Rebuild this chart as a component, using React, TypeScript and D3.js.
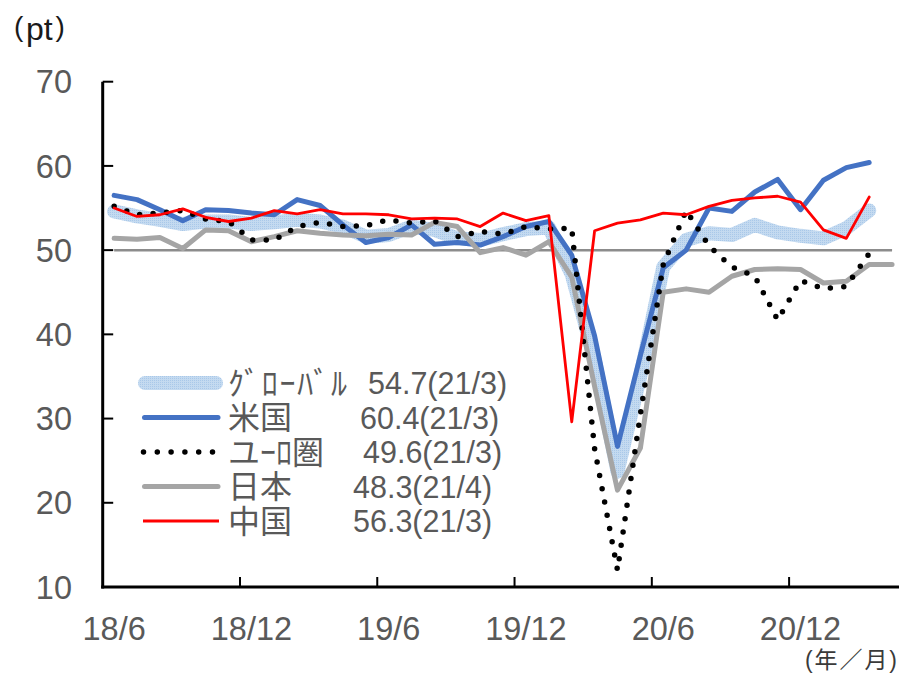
import React from 'react';
import * as d3 from 'd3';

// Monthly categories, 2018/6 .. 2021/4
const months = [
  '18/6', '18/7', '18/8', '18/9', '18/10', '18/11', '18/12',
  '19/1', '19/2', '19/3', '19/4', '19/5', '19/6', '19/7', '19/8', '19/9', '19/10', '19/11', '19/12',
  '20/1', '20/2', '20/3', '20/4', '20/5', '20/6', '20/7', '20/8', '20/9', '20/10', '20/11', '20/12',
  '21/1', '21/2', '21/3', '21/4',
];
const tickLabels = ['18/6', '18/12', '19/6', '19/12', '20/6', '20/12'];
const yTicks = [10, 20, 30, 40, 50, 60, 70];
const REF_LEVEL = 50;

// Services PMI (pt)
const globalPmi = [
  54.6, 54.0, 53.6, 53.1, 53.4, 53.4, 53.1, 53.3, 53.6, 53.4, 52.8, 51.6, 51.8, 52.8, 52.4, 51.4, 51.2, 51.9, 52.5,
  52.7, 47.1, 37.0, 23.7, 35.1, 48.0, 51.2, 52.0, 51.8, 53.0, 52.1, 51.7, 51.4, 52.6, 54.7,
];
const usPmi = [
  56.5, 56.0, 54.8, 53.5, 54.8, 54.7, 54.4, 54.2, 56.0, 55.3, 53.0, 50.9, 51.5, 53.0, 50.7, 50.9, 50.6, 51.6, 52.8,
  53.4, 49.4, 39.8, 26.7, 37.5, 47.9, 50.0, 55.0, 54.6, 56.9, 58.4, 54.8, 58.3, 59.8, 60.4,
];
const euroPmi = [
  55.2, 54.2, 54.4, 54.7, 53.7, 53.4, 51.2, 51.2, 52.8, 53.3, 52.8, 52.9, 53.6, 53.2, 53.5, 51.6, 52.2, 51.9, 52.8,
  52.5, 52.6, 26.4, 12.0, 30.5, 48.3, 54.7, 50.5, 48.0, 46.9, 41.7, 46.4, 45.4, 45.7, 49.6,
];
const japanPmi = [
  51.4, 51.3, 51.5, 50.2, 52.4, 52.3, 51.0, 51.6, 52.3, 52.0, 51.8, 51.7, 51.9, 51.8, 53.3, 52.8, 49.7, 50.3, 49.4,
  51.0, 46.8, 33.8, 21.5, 26.5, 45.0, 45.4, 45.0, 46.9, 47.7, 47.8, 47.7, 46.1, 46.3, 48.3, 48.3,
];
const chinaPmi = [
  55.0, 54.0, 54.2, 54.9, 53.9, 53.4, 53.8, 54.7, 54.3, 54.8, 54.3, 54.3, 54.2, 53.7, 53.8, 53.7, 52.8, 54.4, 53.5,
  54.1, 29.6, 52.3, 53.2, 53.6, 54.4, 54.2, 55.2, 55.9, 56.2, 56.4, 55.7, 52.4, 51.4, 56.3,
];

const seriesNames = ['ｸﾞﾛｰﾊﾞﾙ', '米国', 'ユｰﾛ圏', '日本', '中国'];

const W = 899;
const H = 674;
const TEXT = '#595959';
const FONT = "'Liberation Sans', Arial, 'Noto Sans CJK JP', sans-serif";

type Series = {
  name: string;
  values: number[];
  color: string;
  width: number;
  dash?: string;
};

const series: Series[] = [
  { name: seriesNames[0], values: globalPmi, color: 'url(#globalTexture)', width: 14 },
  { name: seriesNames[1], values: usPmi, color: '#4472C4', width: 5 },
  { name: seriesNames[2], values: euroPmi, color: '#000000', width: 5.5, dash: '0 13.5' },
  { name: seriesNames[3], values: japanPmi, color: '#A5A5A5', width: 5 },
  { name: seriesNames[4], values: chinaPmi, color: '#FF0000', width: 2.8 },
];

// draw order: band first, then the other lines
const drawOrder = [0, 1, 3, 2, 4];

// legend value columns (start x of the "value(month)" text per row)
const legendValueX = [368, 360, 363, 353, 353];

export default function App() {
  const x = d3.scaleBand<string>().domain(months).range([102.7, 903.5]);
  const cx = (i: number) => (x(months[i]) as number) + x.bandwidth() / 2;
  const y = d3.scaleLinear().domain([10, 70]).range([587, 81.7]);
  const line = d3
    .line<number>()
    .x((_, i) => cx(i))
    .y((d) => y(d));

  const fmt = d3.format('.1f');
  const xAxisY = y(10);
  const yAxisX = x.range()[0];

  const legendTop = 383;
  const legendStep = 34.5;

  return (
    <svg
      width={W}
      height={H}
      viewBox={`0 0 ${W} ${H}`}
      style={{ position: 'absolute', left: 0, top: 0, background: '#ffffff' }}
    >
      <defs>
        <pattern id="globalTexture" patternUnits="userSpaceOnUse" width={2} height={2}>
          <rect width={2} height={2} fill="#C4DAF0" />
          <rect width={1} height={1} fill="#A9C8E9" />
        </pattern>
      </defs>
      <rect width={W} height={H} fill="#ffffff" />

      {/* unit labels */}
      <text fill="#1a1a1a" fontFamily={FONT}>
        <tspan x={14} y={35.5} fontSize={28}>(</tspan>
        <tspan x={26} y={40} fontSize={32}>pt</tspan>
        <tspan x={55.5} y={35.5} fontSize={28}>)</tspan>
      </text>
      <text
        x={805}
        y={668}
        fill="#3a3a3a"
        fontSize={23}
        fontFamily={FONT}
        textLength={92}
        lengthAdjust="spacing"
      >
        (年／月)
      </text>

      {/* reference line at 50 */}
      <line
        x1={cx(0)}
        x2={cx(months.length - 1)}
        y1={y(REF_LEVEL)}
        y2={y(REF_LEVEL)}
        stroke="#8C8C8C"
        strokeWidth={2.5}
      />

      {/* series */}
      {drawOrder.map((k) => {
        const s = series[k];
        return (
          <path
            key={s.name}
            d={line(s.values) || ''}
            fill="none"
            stroke={s.color}
            strokeWidth={s.width}
            strokeDasharray={s.dash}
            strokeLinecap="round"
            strokeLinejoin="round"
          />
        );
      })}

      {/* axes */}
      <line x1={yAxisX} x2={yAxisX} y1={y(70)} y2={xAxisY + 1.5} stroke="#000" strokeWidth={3} />
      <line x1={yAxisX - 1.5} x2={W} y1={xAxisY} y2={xAxisY} stroke="#000" strokeWidth={3} />
      {yTicks
        .filter((t) => t !== 10)
        .map((t) => (
          <line key={`yt${t}`} x1={yAxisX} x2={yAxisX + 10.5} y1={y(t)} y2={y(t)} stroke="#000" strokeWidth={2} />
        ))}
      {yTicks.map((t) => (
        <text
          key={`yl${t}`}
          x={72}
          y={y(t) + 11.6}
          textAnchor="end"
          fontSize={32.5}
          fill={TEXT}
          fontFamily={FONT}
        >
          {t}
        </text>
      ))}
      {tickLabels.map((lab) => {
        const i = months.indexOf(lab);
        const bx = x(lab) as number;
        return (
          <g key={`xt${lab}`}>
            {i > 0 && <line x1={bx} x2={bx} y1={xAxisY} y2={xAxisY - 10} stroke="#000" strokeWidth={2} />}
            <text x={cx(i)} y={640} textAnchor="middle" fontSize={32.5} fill={TEXT} fontFamily={FONT}>
              {lab}
            </text>
          </g>
        );
      })}

      {/* legend */}
      {series.map((s, k) => {
        const cy = legendTop + k * legendStep;
        const last = s.values.length - 1;
        const valueText = `${fmt(s.values[last])}(${months[last]})`;
        let sample: React.ReactNode;
        if (k === 0) {
          sample = <line x1={145} x2={216} y1={cy} y2={cy} stroke={s.color} strokeWidth={14} strokeLinecap="round" />;
        } else if (s.dash) {
          sample = (
            <line
              x1={143.5}
              x2={213}
              y1={cy}
              y2={cy}
              stroke={s.color}
              strokeWidth={s.width}
              strokeDasharray="0 13.8"
              strokeLinecap="round"
            />
          );
        } else {
          sample = (
            <line
              x1={k === 4 ? 143 : 144.5}
              x2={k === 4 ? 219 : 218}
              y1={cy}
              y2={cy}
              stroke={s.color}
              strokeWidth={k === 4 ? 3 : 5}
              strokeLinecap={k === 4 ? 'butt' : 'round'}
            />
          );
        }
        return (
          <g key={`lg${k}`}>
            {sample}
            <text
              x={228}
              y={cy + 11.5}
              fontSize={32}
              fill={TEXT}
              fontFamily={FONT}
              textLength={k === 0 ? 119 : undefined}
              lengthAdjust="spacing"
            >
              {s.name}
            </text>
            <text x={legendValueX[k]} y={cy + 11} fontSize={30.5} fill={TEXT} fontFamily={FONT}>
              {valueText}
            </text>
          </g>
        );
      })}
    </svg>
  );
}
